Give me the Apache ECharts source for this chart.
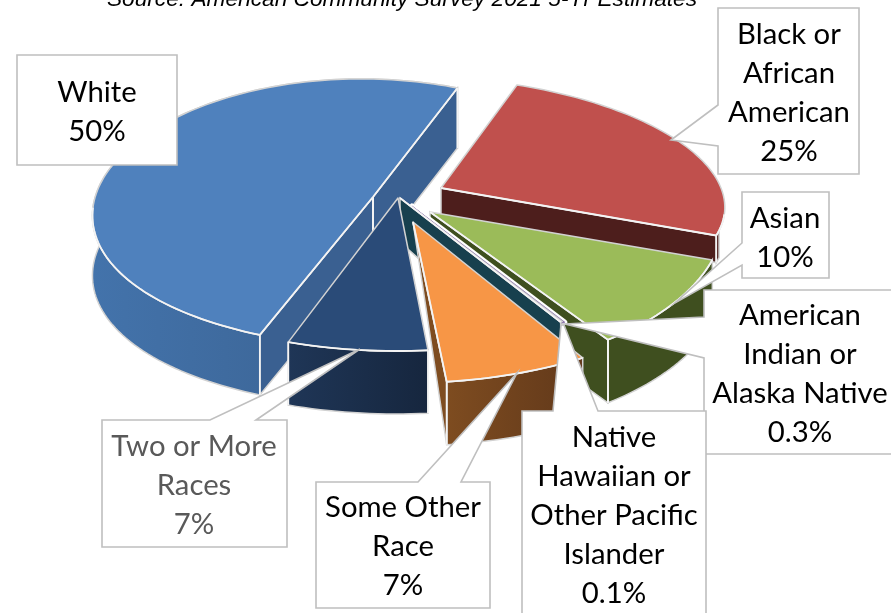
<!DOCTYPE html>
<html><head><meta charset="utf-8">
<style>html,body{margin:0;padding:0;background:#fff}#c{width:891px;height:613px}</style>
<script src="https://cdn.jsdelivr.net/npm/echarts@6/dist/echarts.min.js"></script>
</head><body><div id="c"></div>
<script>
// ---- data ----
const sliceNames = ['White','Black or African American','Asian','American Indian or Alaska Native','Native Hawaiian or Other Pacific Islander','Some Other Race','Two or More Races'];
const sliceValues = [50,25,10,0.3,0.1,7,7];
const valueLabels = ['50%','25%','10%','0.3%','0.1%','7%','7%'];
const labelLines = [['White'],['Black or','African','American'],['Asian'],['American','Indian or','Alaska Native'],['Native','Hawaiian or','Other Pacific','Islander'],['Some Other','Race'],['Two or More','Races']];
const sourceNote = 'Source: American Community Survey 2021 5-Yr Estimates';

// ---- drawing setup (not data) ----
const topColors = ['#4F81BD','#C0504D','#9BBB59','#8064A2','#1c4a5a','#F79646','#2a4b78'];
const wallColors = [['#4373ab','#385d8a'],['#4d1e1c','#4d1e1c'],['#3f4f1f','#3f4f1f'],['#403152','#403152'],['#17404e','#17404e'],['#7e4c20','#61381a'],['#1f3657','#16263e']];
const paintOrder = [0,1,2,3,4,6,5];
const firstSliceAngle = 20;   // degrees clockwise from top where Black or African American begins
const clockwiseOrder = [1,2,3,4,5,6,0];
// per-slice projection of the unit pie onto the page: apex, basis vectors, perspective
const frames = [
 {c:[373,197],A:[275,8],B:[-5,132],p:0.18,py:0.12,depth:60,arms:[1,1],apexDepth:1},
 {c:[441,188],A:[282,6],B:[18,117],p:0.05,py:0.05,depth:27,arms:[0,1],apexDepth:1,wallFrom:108},
 {c:[430,212],A:[294,-8],B:[20,158],p:0,py:0,depth:63,arms:[0,1],apexDepth:1},
 {c:[412,206],A:[279,0],B:[0,139],p:0,py:0,depth:0,arms:[0,0],apexDepth:1,ring:5},
 {c:[400,198],A:[305,0],B:[0,146],p:0,py:0,depth:63,arms:[0,1],apexDepth:0.7,noWall:1},
 {c:[413,222],A:[327,-2],B:[-3,161],p:0,py:0,depth:63,arms:[0,1],apexDepth:0},
 {c:[398,198],A:[321,2],B:[-6,153],p:0,py:0,depth:63,arms:[0,0],apexDepth:1}
];
const boxColor = '#bfbfbf';
const textColors = ['#000','#000','#000','#000','#000','#000','#595959'];
const labelCenters = [[97,93],[789,35],[785,219],[800,316],[614,438],[403,508],[194,447]];
const lineGap = 39;
const labelOutlines = [
 [[17,55],[177,55],[177,165],[17,165]],
 [[718,8],[859,8],[859,174],[718,174],[718,146],[671,140],[718,105]],
 [[742,192],[829,192],[829,278],[742,278],[742,265],[675,303],[742,243]],
 [[704,290],[900,290],[900,454],[704,454],[704,358],[565,324],[704,317]],
 [[522,411],[553,411],[561,325],[564,325],[598,411],[706,411],[706,630],[522,630]],
 [[316,482],[418,482],[517,373],[461,482],[490,482],[490,608],[316,608]],
 [[102,420],[210,420],[360,349],[256,420],[287,420],[287,547],[102,547]]
];
const fontFamily = 'Lato, "Open Sans", sans-serif';

const total = sliceValues.reduce((a,b)=>a+b,0);
const spans = [];
{ let cur = firstSliceAngle;
  clockwiseOrder.forEach(i=>{const d=sliceValues[i]/total*360; spans[i]=[cur,cur+d]; cur+=d;});
}
function proj(f,deg,r,h){
  const t=deg*Math.PI/180,u=Math.sin(t)*r,v=-Math.cos(t)*r,s=1/(1-f.p*v),sy=1/(1-f.py*v);
  return [f.c[0]+(u*f.A[0]+v*f.B[0])*s, f.c[1]+(u*f.A[1]+v*f.B[1])*sy+(h||0)];
}
function arc(f,a,b,h){const n=Math.max(2,Math.ceil((b-a)/1.5)),o=[];for(let k=0;k<=n;k++)o.push(proj(f,a+(b-a)*k/n,1,h));return o;}
const grad=(c)=>({type:'linear',x:0,y:0,x2:1,y2:0,colorStops:[{offset:0,color:c[0]},{offset:1,color:c[1]}]});

function renderSlice(params,api){
  const i=api.value(0),f=frames[i],[a,b]=spans[i];
  const kids=[];
  const top=[f.c].concat(arc(f,a,b,0));
  const rim='#d2d2d2';
  if(f.depth && !f.noWall){
    const wa=f.wallFrom?Math.max(a,f.wallFrom):a;
    const upper=arc(f,wa,b,0),lower=arc(f,wa,b,f.depth).reverse();
    kids.push({type:'polygon',shape:{points:upper.concat(lower)},style:{fill:grad(wallColors[i]),stroke:rim,lineWidth:1.5}});
  }
  const faces=[];
  [a,b].forEach((ang,k)=>{
    if(!f.arms[k])return;
    const e=proj(f,ang,1,0),ed=proj(f,ang,1,f.depth),cd=[f.c[0],f.c[1]+f.depth*f.apexDepth];
    const fill=i===0?'#3a6091':wallColors[i][0];
    kids.push({type:'polygon',shape:{points:[f.c,e,ed,cd]},style:{fill,stroke:rim,lineWidth:1.5}});
    faces.push({e,ed,cd});
  });
  if(f.ring){kids.push({type:'polygon',shape:{points:top},style:{fill:'#fff',stroke:'#fff',lineWidth:f.ring,lineJoin:'round'}});}
  kids.push({type:'polygon',shape:{points:top},style:{fill:topColors[i],stroke:f.ring?topColors[i]:rim,lineWidth:f.ring?0.6:1.5,lineJoin:'round'}});
  if(f.depth){
    const white={stroke:'#f4f4f4',lineWidth:1.8,fill:null};
    faces.forEach(x=>{
      kids.push({type:'polyline',shape:{points:[f.c,x.e]},style:white});
      if(!f.noWall)kids.push({type:'polyline',shape:{points:[x.e,x.ed]},style:white});
      if(i===0)kids.push({type:'polyline',shape:{points:[f.c,x.cd]},style:white});
    });
    const fa=Math.max(a,100),fb=Math.min(b,262);
    if(fb>fa&&!f.noWall)kids.push({type:'polyline',shape:{points:arc(f,fa,fb,0)},style:white});
    if(i===6)kids.push({type:'polyline',shape:{points:[proj(f,a,1,0),proj(f,a,1,f.depth)]},style:white},{type:'polyline',shape:{points:[proj(f,b,1,0),proj(f,b,1,f.depth)]},style:white});
    if(i===2)kids.push({type:'polyline',shape:{points:[proj(f,b,1,0),proj(f,b,1,f.depth)]},style:white});
  }
  return {type:'group',children:kids};
}
function renderLabel(params,api){
  const i=api.value(0),kids=[];
  kids.push({type:'polygon',shape:{points:labelOutlines[i]},style:{fill:'#fff',stroke:boxColor,lineWidth:1.6,lineJoin:'miter'}});
  const lines=labelLines[i].concat([valueLabels[i]]);
  lines.forEach((t,k)=>kids.push({type:'text',style:{text:t,x:labelCenters[i][0],y:labelCenters[i][1]+k*lineGap,align:'center',verticalAlign:'middle',font:'400 29.3px '+fontFamily,fill:textColors[i]}}));
  return {type:'group',children:kids};
}
const chart=echarts.init(document.getElementById('c'),null,{renderer:'canvas'});
chart.setOption({
  animation:false,
  backgroundColor:'#fff',
  graphic:[{type:'text',style:{text:sourceNote,x:402,y:0,align:'center',verticalAlign:'middle',font:'italic 22.7px "Liberation Sans", Arial, sans-serif',fill:'#000'}}],
  series:[
   {type:'custom',coordinateSystem:'none',silent:true,renderItem:renderSlice,z:2,
    data:paintOrder.map(i=>({name:sliceNames[i],value:[i,sliceValues[i]]}))},
   {type:'custom',coordinateSystem:'none',silent:true,renderItem:renderLabel,z:3,
    data:[3,4,1,2,5,6,0].map(i=>({name:sliceNames[i],value:[i,sliceValues[i]]}))}
  ]
});
</script></body></html>
